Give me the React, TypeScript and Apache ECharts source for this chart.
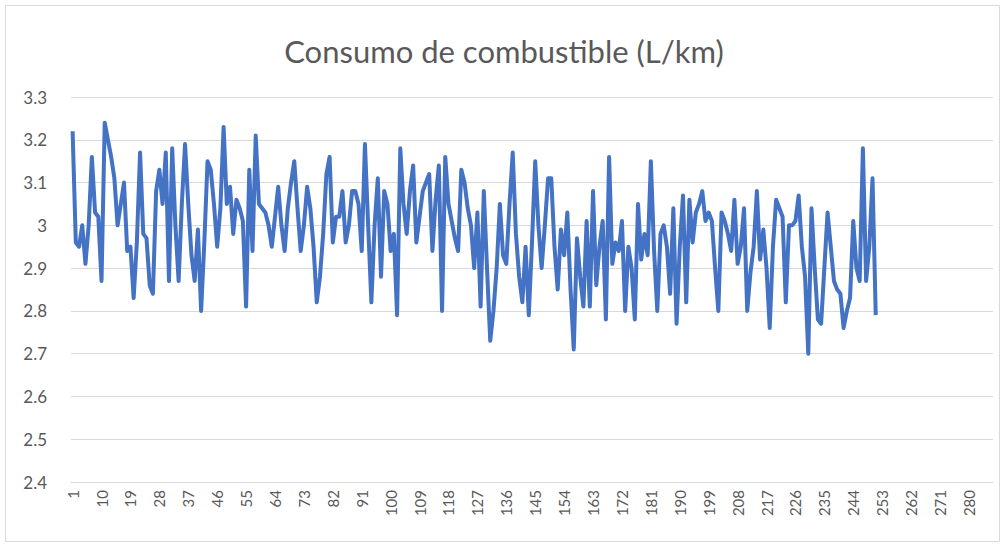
import React, { useEffect, useRef } from "react";
import * as echarts from "echarts";

const titleText = "Consumo de combustible (L/km)";
const categoryCount = 287;
const categories = Array.from({ length: categoryCount }, (_, i) => String(i + 1));

const consumo1 = [
  3.22, 2.96, 2.95, 3.0, 2.91, 3.0, 3.16, 3.03, 3.02, 2.87,
  3.24, 3.2, 3.16, 3.11, 3.0, 3.05, 3.1, 2.94, 2.95, 2.83,
  2.96, 3.17, 2.98, 2.97, 2.86, 2.84, 3.08, 3.13, 3.05, 3.17,
  2.87, 3.18, 3.0, 2.87, 3.05, 3.19, 3.05, 2.93, 2.87, 2.99,
  2.8, 2.96, 3.15, 3.13, 3.05, 2.95, 3.04, 3.23, 3.05, 3.09,
];
const consumo2 = [
  2.98, 3.06, 3.04, 3.01, 2.81, 3.13, 2.94, 3.21, 3.05, 3.04,
  3.03, 3.0, 2.95, 3.02, 3.09, 3.0, 2.94, 3.04, 3.1, 3.15,
  3.04, 2.94, 3.0, 3.09, 3.04, 2.95, 2.82, 2.88, 2.98, 3.12,
  3.16, 2.96, 3.02, 3.02, 3.08, 2.96, 3.0, 3.08, 3.08, 3.05,
  2.94, 3.19, 3.0, 2.82, 3.0, 3.11, 2.88, 3.08, 3.05, 2.94,
];
const consumo3 = [
  2.98, 2.79, 3.18, 3.05, 2.98, 3.08, 3.14, 2.96, 3.02, 3.08,
  3.1, 3.12, 2.94, 3.06, 3.14, 2.8, 3.16, 3.05, 3.01, 2.97,
  2.94, 3.13, 3.1, 3.04, 3.0, 2.9, 3.03, 2.81, 3.08, 2.9,
  2.73, 2.8, 2.9, 3.05, 2.93, 2.91, 3.05, 3.17, 2.98, 2.88,
  2.82, 2.95, 2.79, 2.96, 3.15, 3.0, 2.9, 3.0, 3.11, 3.11,
];
const consumo4 = [
  2.95, 2.85, 2.99, 2.93, 3.03, 2.85, 2.71, 2.97, 2.88, 2.81,
  3.01, 2.81, 3.08, 2.86, 2.95, 3.01, 2.78, 3.16, 2.91, 2.96,
  2.94, 3.01, 2.8, 2.95, 2.9, 2.78, 3.05, 2.92, 2.98, 2.93,
  3.15, 2.94, 2.8, 2.98, 3.0, 2.95, 2.84, 3.04, 2.77, 2.95,
  3.07, 2.82, 3.06, 2.96, 3.03, 3.05, 3.08, 3.01, 3.03, 3.01,
];
const consumo5 = [
  2.9, 2.8, 3.03, 3.01, 2.98, 2.94, 3.06, 2.91, 2.95, 3.04,
  2.8, 2.89, 2.95, 3.08, 2.92, 2.99, 2.9, 2.76, 2.95, 3.06,
  3.04, 3.02, 2.82, 3.0, 3.0, 3.01, 3.07, 2.95, 2.88, 2.7,
  3.04, 2.9, 2.78, 2.77, 2.9, 3.03, 2.95, 2.87, 2.85, 2.84,
  2.76, 2.8, 2.83, 3.01, 2.9, 2.87, 3.18, 2.87, 2.95, 3.11,
  2.79,
];
const consumo = [...consumo1, ...consumo2, ...consumo3, ...consumo4, ...consumo5];

const yMin = 2.4;
const yMax = 3.3;
const yStep = 0.1;

export default function App() {
  const ref = useRef<HTMLDivElement>(null);
  useEffect(() => {
    if (!ref.current) return;
    const chart = echarts.init(ref.current, null, { renderer: "svg" });
    const font = "Lato, 'Open Sans', sans-serif";
    chart.setOption({
      animation: false,
      backgroundColor: "#ffffff",
      title: {
        text: titleText,
        left: "center",
        top: 30,
        textStyle: { fontFamily: font, fontSize: 31, fontWeight: "normal", color: "#595959" },
      },
      graphic: [
        {
          type: "rect",
          shape: { x: 5.5, y: 5.5, width: 994, height: 536 },
          style: { fill: "none", stroke: "#d9d9d9", lineWidth: 1 },
          silent: true,
        },
      ],
      grid: { left: 71, right: 15, top: 97, bottom: 64, containLabel: false },
      xAxis: {
        type: "category",
        data: categories,
        boundaryGap: true,
        axisLine: { show: true, lineStyle: { color: "#d9d9d9", width: 1 } },
        axisTick: { show: false },
        axisLabel: {
          interval: 8,
          rotate: 90,
          fontFamily: font,
          fontSize: 15,
          color: "#595959",
          margin: 8,
        },
      },
      yAxis: {
        type: "value",
        min: yMin,
        max: yMax,
        interval: yStep,
        axisLine: { show: false },
        axisTick: { show: false },
        splitLine: { lineStyle: { color: "#d9d9d9", width: 1 } },
        axisLabel: {
          fontFamily: font,
          fontSize: 17,
          color: "#595959",
          margin: 24,
          formatter: (v: number) => String(Math.round(v * 10) / 10),
        },
      },
      series: [
        {
          type: "line",
          data: consumo,
          symbol: "none",
          lineStyle: { color: "#4472C4", width: 4, join: "round" },
          itemStyle: { color: "#4472C4" },
        },
      ],
    });
    return () => chart.dispose();
  }, []);
  return (
    <div
      ref={ref}
      style={{ position: "fixed", left: 0, top: 0, width: 1008, height: 546 }}
    />
  );
}
